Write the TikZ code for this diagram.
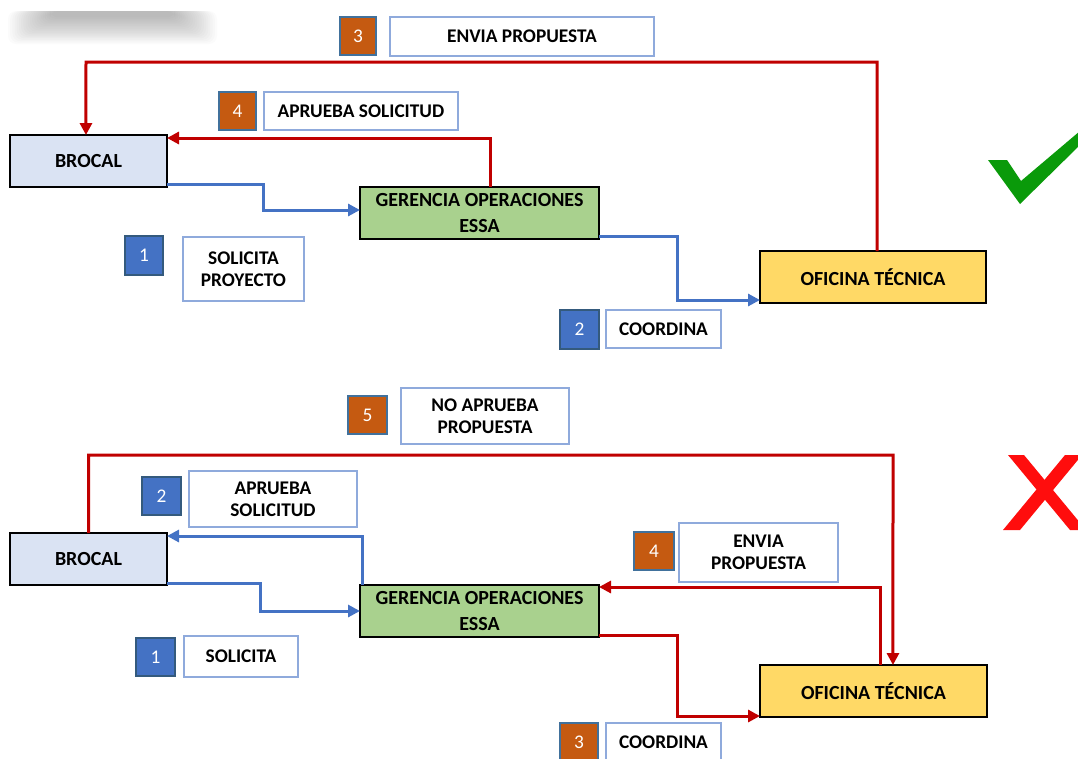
\documentclass[tikz,border=0pt]{standalone}
\usepackage{fontspec}
\setmainfont{Carlito}
\usetikzlibrary{arrows.meta}
\definecolor{brocal}{HTML}{DAE3F3}
\definecolor{geren}{HTML}{A9D18E}
\definecolor{ofic}{HTML}{FFD966}
\definecolor{flowblue}{HTML}{4472C4}
\definecolor{flowred}{HTML}{C00000}
\definecolor{numorange}{HTML}{C55A11}
\definecolor{numblue}{HTML}{4472C4}
\definecolor{numedge}{HTML}{41719C}
\definecolor{lbledge}{HTML}{8FAADC}
\definecolor{checkgreen}{HTML}{0A9A0A}
\definecolor{xred}{HTML}{FF0D0D}
\newcommand{\bx}[7]{\node[#6, minimum width={(#4-#2)*0.75pt}, minimum height={(#5-#3)*0.75pt}] (#1) at ({(#2+#4)/2},{(#3+#5)/2}) {#7};}
\tikzset{
  main/.style={draw=black, line width=1.8pt, inner sep=0pt, outer sep=0pt, align=center, font=\fontsize{15}{19.5}\selectfont\bfseries},
  lbl/.style={draw=lbledge, line width=1pt, fill=white, inner sep=0pt, outer sep=0pt, align=center, font=\fontsize{14.5}{16.5}\selectfont\bfseries},
  numo/.style={draw=numedge, line width=1pt, fill=numorange, text=white, inner sep=0pt, outer sep=0pt, font=\fontsize{14.5}{16}\selectfont},
  numb/.style={draw=numedge!80!black, line width=1pt, fill=numblue, text=white, inner sep=0pt, outer sep=0pt, font=\fontsize{14.5}{16}\selectfont},
  conn/.style={line width=2.25pt, -{Triangle[length=9pt,width=9pt]}},
  bconn/.style={conn, draw=flowblue},
  rconn/.style={conn, draw=flowred},
}
\begin{document}
\begin{tikzpicture}[x=0.75pt, y=-0.75pt]
\useasboundingbox (0,0) rectangle (1078,758);
\clip (0,0) rectangle (1078,758);
% soft shadow at top left
\foreach \i in {0,...,19}
  \fill[black, opacity=0.014, rounded corners=6pt] ({8+\i*2.2},11) rectangle ({217-\i*2.2},{44-\i*1.4});
% ---------- top diagram ----------
\bx{b1}{10}{135}{167}{187}{main, fill=brocal}{BROCAL}
\bx{g1}{360}{187}{599}{239}{main, fill=geren}{GERENCIA OPERACIONES\\ESSA}
\bx{o1}{760}{251}{986}{303}{main, fill=ofic}{OFICINA TÉCNICA}
\bx{n3a}{340}{17}{376}{55}{numo}{3}
\bx{l3a}{390}{17}{654}{56}{lbl}{ENVIA PROPUESTA}
\bx{n4a}{219}{92}{256}{130}{numo}{4}
\bx{l4a}{264}{92}{458}{130}{lbl}{APRUEBA SOLICITUD}
\bx{n1a}{125}{236}{163}{275}{numb}{1}
\bx{l1a}{183}{237}{304}{301}{lbl}{SOLICITA\\PROYECTO}
\bx{n2a}{560}{310}{599}{349}{numb}{2}
\bx{l2a}{606}{310}{721}{348}{lbl}{COORDINA}
\draw[bconn] ([yshift=2.25pt]b1.south east) -| (263,210) -- ([yshift=2.25pt]g1.west);
\draw[bconn] ([yshift=2.25pt]g1.south east) -| (677,300) -- ([yshift=2.25pt]o1.south west);
\draw[rconn] ([xshift=8.6pt]g1.north) |- ([yshift=-2.25pt]b1.north east);
\draw[rconn] ([xshift=3pt]o1.north) |- (86,62) -- ([xshift=-1.9pt]b1.north);
% check mark
\fill[checkgreen] (988,160) -- (1007,160) -- (1021,181) -- (1080,131) -- (1080,145) -- (1020,204) -- cycle;
% ---------- bottom diagram ----------
\bx{b2}{10}{533}{167}{585}{main, fill=brocal}{BROCAL}
\bx{g2}{360}{585}{599}{637}{main, fill=geren}{GERENCIA OPERACIONES\\ESSA}
\bx{o2}{760}{665}{987}{717}{main, fill=ofic}{OFICINA TÉCNICA}
\bx{n5b}{348}{396}{387}{434}{numo}{5}
\bx{l5b}{401}{388}{569}{444}{lbl}{NO APRUEBA\\PROPUESTA}
\bx{n2b}{142}{477}{181}{515}{numb}{2}
\bx{l2b}{189}{471}{357}{527}{lbl}{APRUEBA\\SOLICITUD}
\bx{n4b}{634}{532}{674}{570}{numo}{4}
\bx{l4b}{679}{523}{838}{582}{lbl}{ENVIA\\PROPUESTA}
\bx{n1b}{136}{638}{175}{676}{numb}{1}
\bx{l1b}{184}{636}{298}{677}{lbl}{SOLICITA}
\bx{n3b}{560}{723}{598}{762}{numo}{3}
\bx{l3b}{606}{723}{721}{762}{lbl}{COORDINA}
\draw[bconn] ([yshift=1.5pt]b2.south east) -| (260,611) -- (g2.west);
\draw[bconn] ([xshift=-87.4pt]g2.north) |- ([yshift=-2.25pt]b2.north east);
\draw[rconn] ([yshift=1.5pt]g2.south east) -| (677,716) -- ([yshift=0.75pt]o2.south west);
\draw[rconn] ([xshift=5.6pt]o2.north) |- ([yshift=-1.5pt]g2.north east);
\draw[rconn] (b2.north) |- (893,455) -- ([xshift=14.6pt]o2.north);
% X mark
\fill[xred] (1008,455) -- (1024,455) -- (1086,530) -- (1070,530) -- cycle;
\fill[xred] (1003,530) -- (1020,530) -- (1082,455) -- (1065,455) -- cycle;
\end{tikzpicture}
\end{document}
